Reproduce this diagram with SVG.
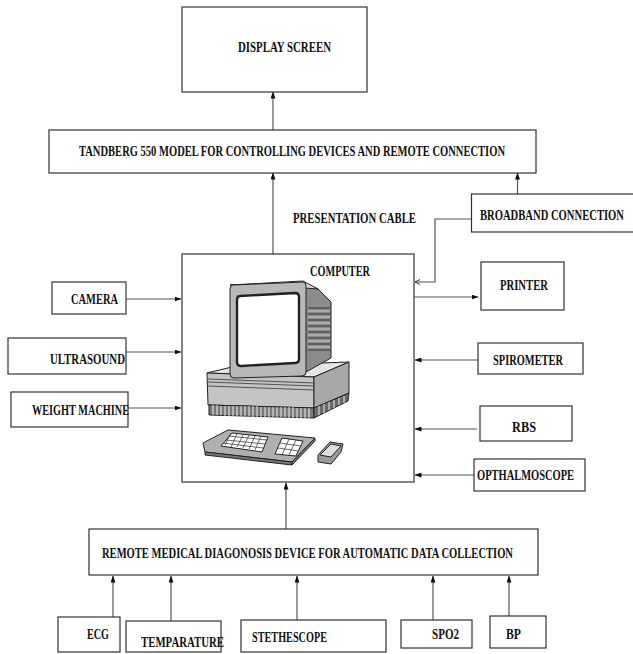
<svg xmlns="http://www.w3.org/2000/svg" width="633" height="654" viewBox="0 0 633 654">
  <defs>
    <marker id="arrow" markerWidth="7" markerHeight="5" refX="6.5" refY="2.5" orient="auto" markerUnits="userSpaceOnUse">
      <path d="M0,0 L7,2.5 L0,5 z" fill="#111"/>
    </marker>
    <marker id="arrow-open" markerWidth="7" markerHeight="6" refX="6" refY="3" orient="auto" markerUnits="userSpaceOnUse">
      <path d="M1,0.5 L6,3 L1,5.5" fill="none" stroke="#333" stroke-width="1"/>
    </marker>
    <style>
      .box { fill: #fff; stroke: #333; stroke-width: 1.2; }
      .lbl { font-family: "Liberation Serif", "Times New Roman", serif; font-size: 15px; font-weight: bold; fill: #111; }
      .wire { fill: none; stroke: #555; stroke-width: 1.2; }
      .art { stroke: #222; stroke-width: 1; stroke-linejoin: round; }
    </style>
  </defs>
  <rect width="633" height="654" fill="#fff"/>

  <!-- connectors -->
  <g id="connectors">
    <line class="wire" x1="273" y1="130" x2="273" y2="92" marker-end="url(#arrow)"/>
    <line class="wire" x1="273" y1="254" x2="273" y2="173" marker-end="url(#arrow)"/>
    <line class="wire" x1="517.5" y1="194" x2="517.5" y2="173" marker-end="url(#arrow)"/>
    <path class="wire" d="M471.5,219 H435 V282 H415" marker-end="url(#arrow-open)"/>
    <line class="wire" x1="414" y1="297" x2="478" y2="297" marker-end="url(#arrow)"/>
    <line class="wire" x1="126" y1="299" x2="181" y2="299" marker-end="url(#arrow)"/>
    <line class="wire" x1="126" y1="352" x2="181" y2="352" marker-end="url(#arrow)"/>
    <line class="wire" x1="128" y1="408" x2="181" y2="408" marker-end="url(#arrow)"/>
    <line class="wire" x1="478" y1="360" x2="415" y2="360" marker-end="url(#arrow)"/>
    <line class="wire" x1="477" y1="429" x2="415" y2="429" marker-end="url(#arrow)"/>
    <line class="wire" x1="474" y1="475" x2="415" y2="475" marker-end="url(#arrow)"/>
    <line class="wire" x1="286" y1="529" x2="286" y2="483" marker-end="url(#arrow)"/>
    <line class="wire" x1="113" y1="617" x2="113" y2="576" marker-end="url(#arrow)"/>
    <line class="wire" x1="171" y1="621" x2="171" y2="576" marker-end="url(#arrow)"/>
    <line class="wire" x1="297" y1="620" x2="297" y2="576" marker-end="url(#arrow)"/>
    <line class="wire" x1="433" y1="620" x2="433" y2="576" marker-end="url(#arrow)"/>
    <line class="wire" x1="509" y1="616" x2="509" y2="576" marker-end="url(#arrow)"/>
  </g>

  <!-- labels use a condensed serif: scale(0.7,1) with a matching textLength -->
  <g id="display-screen">
    <rect class="box" x="182" y="7" width="185" height="85"/>
    <text class="lbl" transform="translate(238,52) scale(0.7,1)" textLength="132.9" lengthAdjust="spacingAndGlyphs">DISPLAY SCREEN</text>
  </g>

  <g id="tandberg">
    <rect class="box" x="49" y="130" width="487" height="43"/>
    <text class="lbl" transform="translate(79,156) scale(0.7,1)" textLength="608.6" lengthAdjust="spacingAndGlyphs">TANDBERG 550 MODEL FOR CONTROLLING DEVICES AND REMOTE CONNECTION</text>
  </g>

  <g id="presentation-cable">
    <text class="lbl" transform="translate(293,223) scale(0.7,1)" textLength="175.7" lengthAdjust="spacingAndGlyphs">PRESENTATION CABLE</text>
  </g>

  <g id="broadband">
    <rect class="box" x="471.5" y="194" width="175" height="38"/>
    <text class="lbl" transform="translate(480,220) scale(0.7,1)" textLength="205.7" lengthAdjust="spacingAndGlyphs">BROADBAND CONNECTION</text>
  </g>

  <g id="computer">
    <rect class="box" x="182" y="254" width="232" height="228"/>
    <text class="lbl" transform="translate(310,276) scale(0.7,1)" textLength="85.7" lengthAdjust="spacingAndGlyphs">COMPUTER</text>
    <g id="computer-art">
      <!-- system unit -->
      <polygon class="art" points="207,373 236,366 349,362 314,377" fill="#e4e4e4"/>
      <polygon class="art" points="207,373 314,377 314,408 208,405" fill="#c4c4c4"/>
      <polygon class="art" points="314,377 349,362 349,393 314,408" fill="#a8a8a8"/>
      <path d="M208,379 L314,383 M208,382 L314,386 M208,386 L314,390" stroke="#333" stroke-width="0.8" fill="none"/>
      <polygon class="art" points="209,405 314,408 314,418 209,415" fill="#7a7a7a"/>
      <polygon class="art" points="314,408 349,393 348,401 314,418" fill="#6a6a6a"/>
      <path d="M213,405 V415 M217,405 V415 M221,406 V415 M225,406 V416 M229,406 V416 M233,406 V416 M237,406 V416 M241,406 V416 M245,406 V416 M249,406 V416 M253,406 V417 M257,406 V417 M261,407 V417 M265,407 V417 M269,407 V417 M273,407 V417 M277,407 V417 M281,407 V417 M285,407 V417 M289,407 V418 M293,407 V418 M297,408 V418 M301,408 V418 M305,408 V418 M309,408 V418 M319,406 V415 M324,404 V413 M329,402 V410 M334,400 V408 M339,398 V405 M344,396 V403" stroke="#eee" stroke-width="1" fill="none"/>
      <!-- monitor housing -->
      <polygon class="art" points="303,283 318,289 331,302 331,358 306,372 303,372" fill="#8c8c8c"/>
      <path d="M308,308 H330 M308,314 H330 M308,320 H330 M308,326 H330 M308,332 H330 M308,338 H330 M308,344 H330 M308,350 H330" stroke="#333" stroke-width="1.2" fill="none"/>
      <path d="M308,311 H330 M308,317 H330 M308,323 H330 M308,329 H330 M308,335 H330 M308,341 H330 M308,347 H330" stroke="#c8c8c8" stroke-width="1" fill="none"/>
      <polygon class="art" points="230,285 303,281 318,289 305,288" fill="#d8d8d8"/>
      <path class="art" d="M233,285 L303,282 Q306,282 306,286 L306,372 Q306,376 302,376 L234,378 Q230,378 230,374 L230,289 Q230,285 233,285 z" fill="#b8b8b8"/>
      <path d="M240,296 L295,293 Q299,293 299,297 L299,359 Q299,363 295,363 L241,366 Q237,366 237,362 L237,300 Q237,296 240,296 z" fill="#fff" stroke="#222" stroke-width="2.4"/>
      <!-- keyboard -->
      <polygon class="art" points="203,443 228,430 315,438 292,462 205,452" fill="#b0b0b0"/>
      <polygon class="art" points="205,452 292,462 292,465 205,455" fill="#777"/>
      <polygon class="art" points="292,462 315,438 315,441 292,465" fill="#777"/>
      <polygon class="art" points="221,446 232,433 268,437 262,452" fill="#fff" stroke-width="0.8"/>
      <path d="M223,443 L263,448 M226,440 L265,444 M229,436 L267,440 M231,433 L225,445 M237,434 L231,447 M243,435 L237,447 M249,435 L243,448 M255,436 L249,449 M261,436 L255,450" stroke="#444" stroke-width="0.8" fill="none"/>
      <polygon class="art" points="275,454 282,438 303,441 296,456" fill="#fff" stroke-width="0.8"/>
      <path d="M278,448 L299,451 M280,443 L301,446 M289,439 L282,455 M296,440 L289,455" stroke="#444" stroke-width="0.8" fill="none"/>
      <!-- mouse -->
      <polygon class="art" points="318,455 330,442 343,444 341,452 331,464 318,462" fill="#9a9a9a"/>
      <polygon class="art" points="320,455 331,444 341,446 331,457" fill="#e0e0e0" stroke-width="0.8"/>
    </g>
  </g>

  <g id="camera">
    <rect class="box" x="52" y="282" width="74" height="32"/>
    <text class="lbl" transform="translate(71,304) scale(0.7,1)" textLength="67.1" lengthAdjust="spacingAndGlyphs">CAMERA</text>
  </g>
  <g id="ultrasound">
    <rect class="box" x="8" y="338" width="118" height="36"/>
    <text class="lbl" transform="translate(50,364) scale(0.7,1)" textLength="107.1" lengthAdjust="spacingAndGlyphs">ULTRASOUND</text>
  </g>
  <g id="weight-machine">
    <rect class="box" x="11" y="392" width="117" height="35"/>
    <text class="lbl" transform="translate(32,415) scale(0.7,1)" textLength="138.6" lengthAdjust="spacingAndGlyphs">WEIGHT MACHINE</text>
  </g>

  <g id="printer">
    <rect class="box" x="481" y="262" width="83" height="48"/>
    <text class="lbl" transform="translate(500,290) scale(0.7,1)" textLength="68.6" lengthAdjust="spacingAndGlyphs">PRINTER</text>
  </g>
  <g id="spirometer">
    <rect class="box" x="478" y="343" width="105" height="31"/>
    <text class="lbl" transform="translate(493,365) scale(0.7,1)" textLength="100" lengthAdjust="spacingAndGlyphs">SPIROMETER</text>
  </g>
  <g id="rbs">
    <rect class="box" x="480" y="406" width="92" height="35"/>
    <text class="lbl" transform="translate(512,432) scale(0.7,1)" textLength="34.3" lengthAdjust="spacingAndGlyphs">RBS</text>
  </g>
  <g id="opthalmoscope">
    <rect class="box" x="474" y="459" width="111" height="32"/>
    <text class="lbl" transform="translate(477,480) scale(0.7,1)" textLength="138.6" lengthAdjust="spacingAndGlyphs">OPTHALMOSCOPE</text>
  </g>

  <g id="remote-device">
    <rect class="box" x="89" y="529" width="449" height="46"/>
    <text class="lbl" transform="translate(102,558) scale(0.7,1)" textLength="587.1" lengthAdjust="spacingAndGlyphs">REMOTE MEDICAL DIAGONOSIS DEVICE FOR AUTOMATIC DATA COLLECTION</text>
  </g>

  <g id="ecg">
    <rect class="box" x="58" y="617" width="62" height="35"/>
    <text class="lbl" transform="translate(87,639) scale(0.7,1)" textLength="31.4" lengthAdjust="spacingAndGlyphs">ECG</text>
  </g>
  <g id="temparature">
    <rect class="box" x="126" y="621" width="95" height="31"/>
    <text class="lbl" transform="translate(141,647) scale(0.7,1)" textLength="118.6" lengthAdjust="spacingAndGlyphs">TEMPARATURE</text>
  </g>
  <g id="stethescope">
    <rect class="box" x="241" y="620" width="145" height="32"/>
    <text class="lbl" transform="translate(252,642) scale(0.7,1)" textLength="107.1" lengthAdjust="spacingAndGlyphs">STETHESCOPE</text>
  </g>
  <g id="spo2">
    <rect class="box" x="401" y="620" width="71" height="28"/>
    <text class="lbl" transform="translate(432,639) scale(0.7,1)" textLength="38.6" lengthAdjust="spacingAndGlyphs">SPO2</text>
  </g>
  <g id="bp">
    <rect class="box" x="490" y="616" width="56" height="32"/>
    <text class="lbl" transform="translate(506,639) scale(0.7,1)" textLength="21.4" lengthAdjust="spacingAndGlyphs">BP</text>
  </g>
</svg>
